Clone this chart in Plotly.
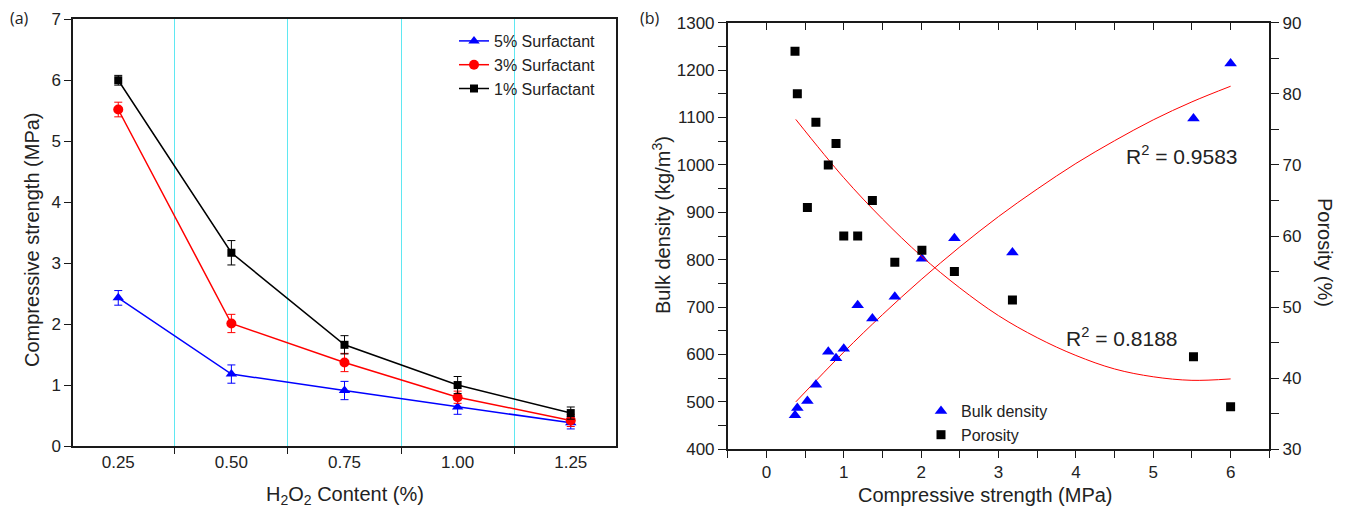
import plotly.graph_objects as go

# ---- (a) compressive strength vs H2O2 content
h2o2 = [0.25, 0.50, 0.75, 1.00, 1.25]
cs_5 = [2.43, 1.18, 0.91, 0.64, 0.38]
cs_5_err = [0.12, 0.15, 0.15, 0.12, 0.10]
cs_3 = [5.52, 2.01, 1.37, 0.80, 0.42]
cs_3_err = [0.12, 0.15, 0.15, 0.10, 0.10]
cs_1 = [6.00, 3.17, 1.66, 1.00, 0.54]
cs_1_err = [0.08, 0.20, 0.15, 0.14, 0.10]

# ---- (b) bulk density / porosity vs compressive strength
strength = [0.37, 0.40, 0.53, 0.64, 0.80, 0.90, 1.00, 1.18, 1.37, 1.66, 2.01, 2.43, 3.18, 5.52, 6.00]
bulk = [472, 487, 502, 536, 606, 592, 612, 704, 676, 722, 802, 845, 815, 1098, 1214]
porosity = [86.0, 80.0, 64.0, 76.0, 70.0, 73.0, 60.0, 60.0, 65.0, 56.3, 58.0, 55.0, 51.0, 43.0, 36.0]

# fit curves
fit_x = [0.38, 1.0, 1.5, 2.0, 2.5, 3.0, 3.5, 4.0, 4.5, 5.0, 5.5, 6.0]
fit_bulk = [500, 605, 684, 758, 827, 891, 949, 1003, 1051, 1095, 1133, 1166]
fit_por = [76.4, 68.2, 62.4, 57.2, 52.7, 48.8, 45.7, 43.2, 41.3, 40.2, 39.7, 39.9]

FONT = "Arial, Liberation Sans, sans-serif"
AX = "#1a1a1a"
CYAN = "#5fe8f2"
W, H = 1346, 517
OFF = 8  # page body margin of the html page


def px(v):
    return (v - OFF) / W


def py(v):
    return 1 - (v - OFF) / H


fig = go.Figure()

series = [("5% Surfactant", cs_5, cs_5_err, "#0000ff", "triangle-up", 10),
          ("3% Surfactant", cs_3, cs_3_err, "#ff0000", "circle", 10),
          ("1% Surfactant", cs_1, cs_1_err, "#000000", "square", 8)]
for name, y, err, col, sym, sz in series:
    fig.add_trace(go.Scatter(
        x=h2o2, y=y, name=name, mode="lines+markers",
        line=dict(color=col, width=1.5),
        marker=dict(symbol=sym, size=sz, color=col),
        error_y=dict(type="data", array=err, color=col, thickness=1, width=4),
        xaxis="x", yaxis="y", legend="legend"))

fig.add_trace(go.Scatter(x=fit_x, y=fit_bulk, mode="lines", line=dict(color="#ff0000", width=1, shape="spline"),
                         showlegend=False, xaxis="x2", yaxis="y2"))
fig.add_trace(go.Scatter(x=strength, y=bulk, mode="markers", name="Bulk density",
                         marker=dict(symbol="triangle-up", size=11, color="#0000ff"),
                         xaxis="x2", yaxis="y2", legend="legend2"))
fig.add_trace(go.Scatter(x=fit_x, y=fit_por, mode="lines", line=dict(color="#ff0000", width=1, shape="spline"),
                         showlegend=False, xaxis="x3", yaxis="y3"))
fig.add_trace(go.Scatter(x=strength, y=porosity, mode="markers", name="Porosity",
                         marker=dict(symbol="square", size=9, color="#000000"),
                         xaxis="x3", yaxis="y3", legend="legend2"))

tickfont = dict(family=FONT, size=17, color="#222")
line_kw = dict(showline=True, linecolor=AX, linewidth=1.5, showgrid=False, zeroline=False, automargin=False)

fig.update_layout(
    width=W, height=H,
    margin=dict(l=0, r=0, t=0, b=0),
    paper_bgcolor="white", plot_bgcolor="white",
    font=dict(family=FONT, color="#222"),
    xaxis=dict(domain=[px(73), px(616)], range=[0.15, 1.35], anchor="y",
               tickvals=h2o2, ticktext=["0.25", "0.50", "0.75", "1.00", "1.25"], ticks="",
               minor=dict(tick0=0.375, dtick=0.25, ticks="outside", ticklen=6, tickcolor=AX,
                          showgrid=True, gridcolor=CYAN, gridwidth=1),
               mirror=True, tickfont=tickfont, **line_kw),
    yaxis=dict(domain=[py(446), py(19.3)], range=[0, 7], dtick=1, anchor="x",
               ticks="outside", ticklen=7, tickcolor=AX, mirror=True, tickfont=tickfont, **line_kw),
    xaxis2=dict(domain=[px(727.7), px(1269.3)], range=[-0.5, 6.5], dtick=1, anchor="y2",
                ticks="outside", ticklen=7, tickcolor=AX,
                minor=dict(dtick=0.5, ticks="outside", ticklen=7, tickcolor=AX),
                tickfont=tickfont, **line_kw),
    yaxis2=dict(domain=[py(449.3), py(22.7)], range=[400, 1300], dtick=100, anchor="x2",
                ticks="outside", ticklen=8, tickcolor=AX,
                minor=dict(dtick=50, ticks="outside", ticklen=8, tickcolor=AX),
                tickfont=tickfont, **line_kw),
    xaxis3=dict(overlaying="x2", side="top", anchor="y3", range=[-0.5, 6.5], dtick=0.5,
                ticks="inside", ticklen=8, tickcolor=AX, showticklabels=False, **line_kw),
    yaxis3=dict(overlaying="y2", side="right", anchor="x3", range=[30, 90], dtick=10,
                ticks="outside", ticklen=8, tickcolor=AX,
                minor=dict(dtick=5, ticks="outside", ticklen=8, tickcolor=AX),
                tickfont=tickfont, **line_kw),
    legend=dict(x=px(454), y=py(24), xanchor="left", yanchor="top", bgcolor="rgba(0,0,0,0)",
                font=dict(family=FONT, size=16, color="#222"), tracegroupgap=0),
    legend2=dict(x=px(921), y=py(394), xanchor="left", yanchor="top", bgcolor="rgba(0,0,0,0)",
                 font=dict(family=FONT, size=16, color="#222"), tracegroupgap=0),
    showlegend=True,
)


def label(text, x, y, size=20, angle=0, family=FONT, anchor="center"):
    fig.add_annotation(text=text, x=px(x), y=py(y), xref="paper", yref="paper",
                       xanchor=anchor, yanchor="middle", textangle=angle, showarrow=False,
                       font=dict(family=family, size=size, color="#222"))


label("Compressive strength (MPa)", 32, 240, angle=-90)
label("H<sub>2</sub>O<sub>2</sub> Content (%)", 345, 495)
label("Bulk density (kg/m<sup>3</sup>)", 662, 225, angle=-90)
label("Compressive strength (MPa)", 985, 495)
label("Porosity (%)", 1325, 252, angle=90)
label("R<sup>2</sup> = 0.9583", 1182, 155, size=21)
label("R<sup>2</sup> = 0.8188", 1122, 337, size=21)
label("(a)", 8, 18, size=16, family="Open Sans, sans-serif", anchor="left")
label("(b)", 650, 18, size=16, family="Open Sans, sans-serif")

fig.write_html("out.html")
